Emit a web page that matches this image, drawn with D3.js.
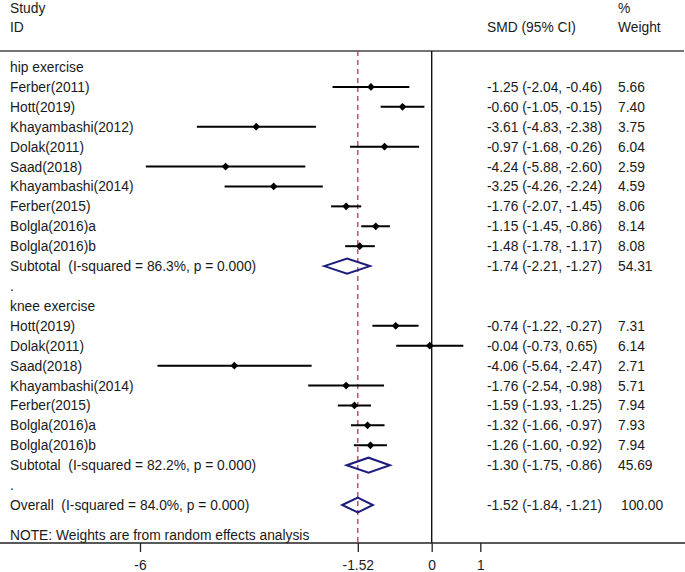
<!DOCTYPE html>
<html>
<head>
<meta charset="utf-8">
<script src="https://cdn.jsdelivr.net/npm/d3@7"></script>
<style>
  body { margin: 0; background: #fff; }
  text { font-family: "Liberation Sans", Arial, sans-serif; font-size: 13.8px; fill: #1a1a1a; white-space: pre; }
</style>
</head>
<body>
<svg id="chart" width="685" height="572"></svg>
<script>
// rows of the forest plot, top to bottom (kind: head / study / sub / blank)
const labels = ["hip exercise", "Ferber(2011)", "Hott(2019)", "Khayambashi(2012)", "Dolak(2011)", "Saad(2018)",
  "Khayambashi(2014)", "Ferber(2015)", "Bolgla(2016)a", "Bolgla(2016)b", "Subtotal  (I-squared = 86.3%, p = 0.000)", ".",
  "knee exercise", "Hott(2019)", "Dolak(2011)", "Saad(2018)", "Khayambashi(2014)", "Ferber(2015)", "Bolgla(2016)a",
  "Bolgla(2016)b", "Subtotal  (I-squared = 82.2%, p = 0.000)", ".", "Overall  (I-squared = 84.0%, p = 0.000)"]
const kinds = ["head", "study", "study", "study", "study", "study", "study", "study", "study", "study", "sub", "blank",
  "head", "study", "study", "study", "study", "study", "study", "study", "sub", "blank", "sub"]
const smd = [null, -1.25, -0.60, -3.61, -0.97, -4.24, -3.25, -1.76, -1.15, -1.48, -1.74, null,
  null, -0.74, -0.04, -4.06, -1.76, -1.59, -1.32, -1.26, -1.30, null, -1.52]
const ciLow = [null, -2.04, -1.05, -4.83, -1.68, -5.88, -4.26, -2.07, -1.45, -1.78, -2.21, null,
  null, -1.22, -0.73, -5.64, -2.54, -1.93, -1.66, -1.60, -1.75, null, -1.84]
const ciHigh = [null, -0.46, -0.15, -2.38, -0.26, -2.60, -2.24, -1.45, -0.86, -1.17, -1.27, null,
  null, -0.27, 0.65, -2.47, -0.98, -1.25, -0.97, -0.92, -0.86, null, -1.21]
const weights = [null, 5.66, 7.40, 3.75, 6.04, 2.59, 4.59, 8.06, 8.14, 8.08, 54.31, null,
  null, 7.31, 6.14, 2.71, 5.71, 7.94, 7.93, 7.94, 45.69, null, 100.00]
const tickVals = [-6, -1.52, 0, 1]
const overallSMD = -1.52

const svg = d3.select('#chart')
const width = 685

const xScale = d3.scaleLinear().domain([-6, 0]).range([140, 431.7])
const yScale = d3.scaleLinear().domain([0, 22]).range([67, 505])

const headerY = 51
const axisY = 543
// plain hyphen minus like the original
const locale = d3.formatLocale({ decimal: '.', thousands: ',', grouping: [3], currency: ['', ''], minus: '-' })
const fmt = locale.format('.2f')

// header texts
svg.append('text').attr('x', 10).attr('y', 13).text('Study')
svg.append('text').attr('x', 10).attr('y', 32).text('ID')
svg.append('text').attr('x', 487).attr('y', 32).text('SMD (95% CI)')
svg.append('text').attr('x', 618).attr('y', 13).text('%')
svg.append('text').attr('x', 618).attr('y', 32).text('Weight')

// header rule
svg.append('line').attr('x1', 0).attr('x2', 684).attr('y1', headerY).attr('y2', headerY)
  .attr('stroke', '#444').attr('stroke-width', 1.6)

// null line and overall dashed line
svg.append('line').attr('x1', xScale(0)).attr('x2', xScale(0)).attr('y1', headerY).attr('y2', axisY)
  .attr('stroke', '#111').attr('stroke-width', 1.4)
svg.append('line').attr('x1', xScale(overallSMD)).attr('x2', xScale(overallSMD)).attr('y1', headerY).attr('y2', axisY)
  .attr('stroke', '#a5424f').attr('stroke-width', 1.3).attr('stroke-dasharray', '5,4')

const rows = labels.map((d, i) => ({
  label: d, kind: kinds[i], smd: smd[i], lo: ciLow[i], hi: ciHigh[i], w: weights[i], i: i
}))

// left labels
svg.selectAll('.lab').data(rows).enter().append('text')
  .attr('class', 'lab')
  .attr('x', 10)
  .attr('y', d => yScale(d.i) + 5)
  .text(d => d.label)

const withData = rows.filter(d => d.smd != null)

// effect text + weights
svg.selectAll('.est').data(withData).enter().append('text')
  .attr('class', 'est')
  .attr('x', 487)
  .attr('y', d => yScale(d.i) + 5)
  .text(d => `${fmt(d.smd)} (${fmt(d.lo)}, ${fmt(d.hi)})`)
svg.selectAll('.wt').data(withData).enter().append('text')
  .attr('class', 'wt')
  .attr('x', d => d.w >= 100 ? 621 : 618)
  .attr('y', d => yScale(d.i) + 5)
  .text(d => fmt(d.w))

// study CI lines and markers
const studies = withData.filter(d => d.kind == 'study')
svg.selectAll('.ci').data(studies).enter().append('line')
  .attr('x1', d => xScale(d.lo)).attr('x2', d => xScale(d.hi))
  .attr('y1', d => yScale(d.i)).attr('y2', d => yScale(d.i))
  .attr('stroke', '#000').attr('stroke-width', 2)
svg.selectAll('.pt').data(studies).enter().append('path')
  .attr('d', d3.symbol().type(d3.symbolSquare).size(30))
  .attr('transform', d => `translate(${xScale(d.smd)},${yScale(d.i)}) rotate(45)`)
  .attr('fill', '#000')

// pooled diamonds
const pooled = withData.filter(d => d.kind == 'sub')
const dh = 7.5
svg.selectAll('.dia').data(pooled).enter().append('path')
  .attr('d', d => {
    const y = yScale(d.i)
    return `M${xScale(d.lo)},${y}L${xScale(d.smd)},${y - dh}L${xScale(d.hi)},${y}L${xScale(d.smd)},${y + dh}Z`
  })
  .attr('fill', 'none').attr('stroke', '#1c1c7c').attr('stroke-width', 2)

svg.append('text').attr('x', 10).attr('y', yScale(23.5) + 5)
  .text('NOTE: Weights are from random effects analysis')

// x axis
const xAxis = d3.axisBottom(xScale)
  .tickValues(tickVals)
  .tickFormat(d => d == -1.52 ? '-1.52' : locale.format('d')(d))
  .tickSize(9)
  .tickSizeOuter(0)
  .tickPadding(8)
const xAxisG = svg.append('g').attr('transform', `translate(0,${axisY})`).call(xAxis)
xAxisG.select('.domain').remove()
xAxisG.selectAll('.tick line').attr('stroke', '#222').attr('stroke-width', 1.3)
xAxisG.selectAll('.tick text').style('font-size', '13.8px').attr('fill', '#1a1a1a')
svg.append('line').attr('x1', 0).attr('x2', width).attr('y1', axisY).attr('y2', axisY)
  .attr('stroke', '#222').attr('stroke-width', 1.4)
</script>
</body>
</html>
